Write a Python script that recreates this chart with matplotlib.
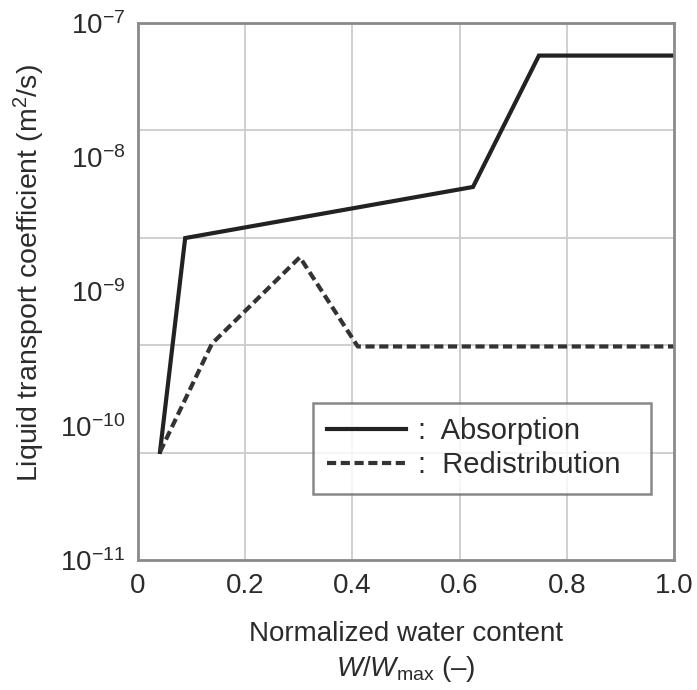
import matplotlib
matplotlib.use("Agg")
import matplotlib.pyplot as plt
from matplotlib.ticker import FixedLocator, NullLocator

plt.rcParams['font.family'] = ['Liberation Sans', 'DejaVu Sans']
plt.rcParams['mathtext.fontset'] = 'custom'
plt.rcParams['mathtext.rm'] = 'Liberation Sans'
plt.rcParams['mathtext.it'] = 'Liberation Sans:italic'
plt.rcParams['mathtext.bf'] = 'Liberation Sans:bold'

# data
absorption_w = [0.041, 0.088, 0.625, 0.748, 1.0]
absorption_d = [6.4e-11, 2.5e-9, 6.0e-9, 5.7e-8, 5.7e-8]

redistrib_w = [0.041, 0.138, 0.302, 0.41, 1.0]
redistrib_d = [6.4e-11, 4.1e-10, 1.8e-9, 3.9e-10, 3.9e-10]

x_ticks = [0, 0.2, 0.4, 0.6, 0.8, 1.0]
x_ticklabels = ["0", "0.2", "0.4", "0.6", "0.8", "1.0"]
y_ticks = [1e-7, 1e-8, 1e-9, 1e-10, 1e-11]
y_ticklabels = [r"$10^{-7}$", r"$10^{-8}$", r"$10^{-9}$", r"$10^{-10}$", r"$10^{-11}$"]
# grid lines split the axis in 5 equal parts, not on the decades
y_grid = [10 ** -7.8, 10 ** -8.6, 10 ** -9.4, 10 ** -10.2]

txt = "#2b2b2b"
fig = plt.figure(figsize=(6.97, 6.90), dpi=100)
ax = fig.add_axes([0.198, 0.188, 0.769, 0.779])

ax.set_yscale("log")
ax.set_xlim(0, 1.0)
ax.set_ylim(1e-11, 1e-7)

for g in [0.2, 0.4, 0.6, 0.8]:
    ax.axvline(g, color="#cccccc", lw=1.3, zorder=0)
for g in y_grid:
    ax.axhline(g, color="#cccccc", lw=1.3, zorder=0)

ax.plot(absorption_w, absorption_d, color="#222222", lw=3, solid_joinstyle="miter",
        label=":  Absorption")
ax.plot(redistrib_w, redistrib_d, color="#333333", lw=3, ls=(0, (2.2, 1.1)),
        label=":  Redistribution  ")

ax.set_xticks(x_ticks)
ax.set_xticklabels(x_ticklabels)
ax.yaxis.set_major_locator(FixedLocator(y_ticks))
ax.yaxis.set_minor_locator(NullLocator())
ax.set_yticklabels(y_ticklabels)
ax.tick_params(length=0, labelsize=20, colors=txt, pad=9)

for s in ax.spines.values():
    s.set_color("#8a8a8a")
    s.set_linewidth(2)

ax.set_xlabel("Normalized water content\n" + r"$W$/$W_{\mathrm{max}}$ (–)",
              fontsize=20, color=txt, labelpad=16, linespacing=1.3)
ax.set_ylabel(r"Liquid transport coefficient (m$^2$/s)", fontsize=20.5, color=txt)
ax.yaxis.set_label_coords(-0.17, 0.535)

leg = ax.legend(loc="upper left", bbox_to_anchor=(0.326, 0.293), fontsize=21,
                handlelength=2.7, handletextpad=0.4, frameon=True, fancybox=False,
                borderpad=0.5, labelspacing=0.2, borderaxespad=0)
leg.get_frame().set_edgecolor("#6a6a6a")
leg.get_frame().set_linewidth(1.8)
for t in leg.get_texts():
    t.set_color(txt)

fig.savefig("out.png", dpi=100)
